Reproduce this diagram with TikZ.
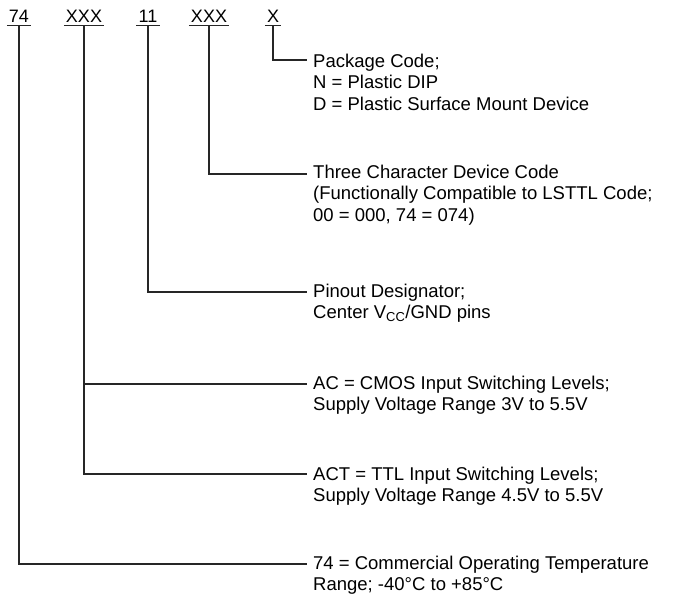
\documentclass[tikz,border=0pt]{standalone}
\usepackage{fontspec}
\setmainfont{Liberation Sans}
\begin{document}
\begin{tikzpicture}[x=1pt,y=-1pt,
  hdr/.style={font=\fontsize{18}{21}\selectfont, inner sep=0pt, anchor=base},
  desc/.style={font=\fontsize{18.5}{21.7}\selectfont, inner sep=0pt, anchor=base west, align=left},
  conn/.style={line width=1.1pt, black!85}]
\useasboundingbox (0,0) rectangle (679,600);
% headers
\node[hdr] (h74) at (19,22.5) {74};
\node[hdr] (hA) at (84,22.5) {XXX};
\node[hdr] (h11) at (148,22.5) {11};
\node[hdr] (hB) at (209,22.5) {XXX};
\node[hdr] (hX) at (273,22.5) {X};
\foreach \n in {h74,hA,h11,hB,hX}
  \draw[conn] ([xshift=-2pt,yshift=-2.8pt]\n.base west) -- ([xshift=2pt,yshift=-2.8pt]\n.base east);
% descriptions (anchored at the baseline of their last line)
\node[desc] (dPkg) at (313,110.4) {Package Code;\\N = Plastic DIP\\D = Plastic Surface Mount Device};
\node[desc] (dDev) at (313,221.4) {Three Character Device Code\\(Functionally Compatible to LSTTL Code;\\00 = 000, 74 = 074)};
\node[desc] (dPin) at (313,318.7) {Pinout Designator;\\Center V\textsubscript{CC}/GND pins};
\node[desc] (dAC) at (313,410.7) {AC = CMOS Input Switching Levels;\\Supply Voltage Range 3V to 5.5V};
\node[desc] (dACT) at (313,501.7) {ACT = TTL Input Switching Levels;\\Supply Voltage Range 4.5V to 5.5V};
\node[desc] (d74) at (313,590.7) {74 = Commercial Operating Temperature\\Range; -40°C to +85°C};
% connector ends
\coordinate (cPkg) at (307,60);
\coordinate (cDev) at (307,174);
\coordinate (cPin) at (307,292);
\coordinate (cAC) at (307,384);
\coordinate (cACT) at (307,474);
\coordinate (c74) at (307,564);
% connectors
\draw[conn] ([yshift=-2.8pt]hX.base) |- (cPkg);
\draw[conn] ([yshift=-2.8pt]hB.base) |- (cDev);
\draw[conn] ([yshift=-2.8pt]h11.base) |- (cPin);
\draw[conn] ([yshift=-2.8pt]hA.base) |- (cACT);
\draw[conn] (hA.base |- cAC) -- (cAC);
\draw[conn] ([yshift=-2.8pt]h74.base) |- (c74);
\end{tikzpicture}
\end{document}
